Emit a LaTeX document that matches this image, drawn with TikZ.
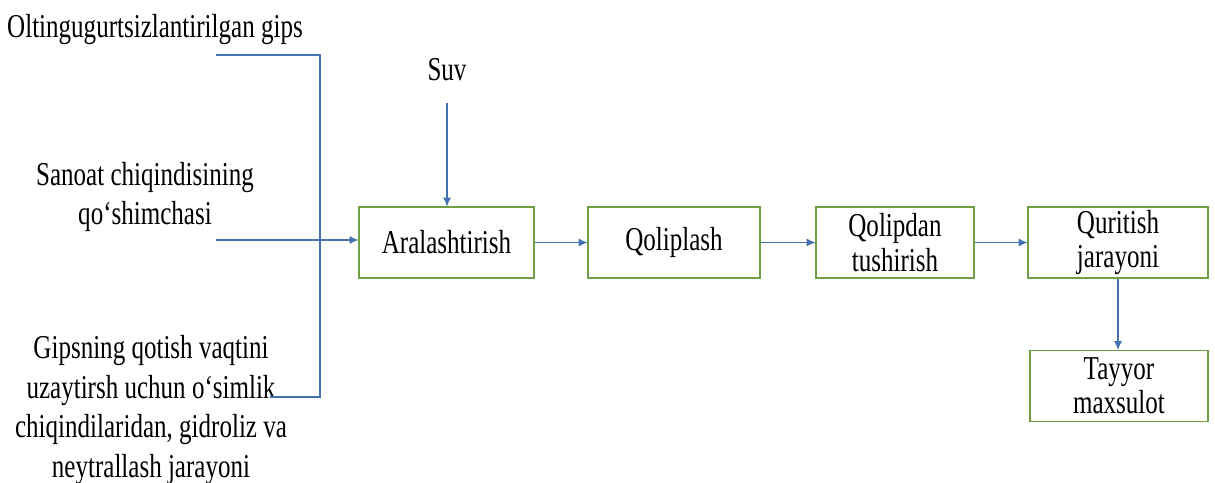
\documentclass[tikz,border=0pt]{standalone}
\usepackage{fontspec}
\setmainfont{Liberation Serif}[FakeStretch=0.75]
\usetikzlibrary{arrows.meta}
\definecolor{boxgreen}{RGB}{112,160,70}
\definecolor{lineblue}{RGB}{68,114,176}

\tikzset{
	box/.style={draw=boxgreen, line width=0.6pt, minimum height=1.42cm, inner sep=1pt,
		align=center, font=\fontsize{19}{19.5}\selectfont},
	flow/.style={draw=lineblue, line width=0.6pt, -{Latex[length=5pt,width=4.5pt]}},
	feed/.style={draw=lineblue, line width=0.6pt},
	lbl/.style={align=center, inner sep=0pt, font=\fontsize{19}{22.7}\selectfont},
}

\begin{document}
\begin{tikzpicture}[x=0.02cm, y=-0.02cm]
\useasboundingbox (0,0) rectangle (1215,483);
%inputs
\node[lbl] (gips) at (155,30) {Oltingugurtsizlantirilgan gips};
\node[lbl] (sanoat) at (145,197) {Sanoat chiqindisining\\qo‘shimchasi};
\node[lbl] (gipsning) at (151,410) {Gipsning qotish vaqtini\\uzaytirsh uchun o‘simlik\\chiqindilaridan, gidroliz va\\neytrallash jarayoni};
\node[lbl] (suv) at (447,70) {Suv};
%process boxes
\node[box, minimum width=3.5cm] (aral) at (446.5,242.5) {Aralashtirish};
\node[box, minimum width=3.44cm] (qolip) at (674,242.5) {Qoliplash};
\node[box, minimum width=3.16cm] (tush) at (895,242.5) {Qolipdan\\tushirish};
\node[box, minimum width=3.6cm] (qurit) at (1118,242.5) {Quritish\\jarayoni};
\node[box, minimum width=3.56cm] (tayyor) at (1119,386) {Tayyor\\maxsulot};
%bracket
\coordinate (b1) at (216,55);
\coordinate (b2) at (320,55);
\coordinate (b3) at (320,397);
\coordinate (b4) at (270,397);
\coordinate (s1) at (216,240);
\coordinate (w1) at (447,103);
\draw[feed] (b1) -- (b2) -- (b3) -- (b4);
\draw[flow] (s1) -- (s1 -| aral.west);
\draw[flow] (w1) -- (w1 |- aral.north);
%flow
\draw[flow] (aral) -- (qolip);
\draw[flow] (qolip) -- (tush);
\draw[flow] (tush) -- (qurit);
\draw[flow] (qurit.south) -- (qurit.south |- tayyor.north);
\end{tikzpicture}
\end{document}
